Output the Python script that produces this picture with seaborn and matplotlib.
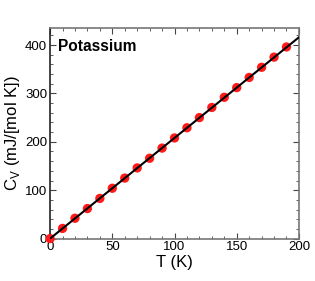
import numpy as np
import pandas as pd
import seaborn as sns
import matplotlib.pyplot as plt
from matplotlib.ticker import MultipleLocator

# data points
T = [0, 10, 20, 30, 40, 50, 60, 70, 80, 90, 100,
     110, 120, 130, 140, 150, 160, 170, 180, 190]
Cv = [0, 21, 42, 62, 83, 104, 125, 146, 166, 187, 208,
      229, 250, 271, 292, 312, 333, 354, 375, 396]

# linear fit line
fit_T = [0, 200]
fit_Cv = [0, 416]

df = pd.DataFrame({"T": T, "Cv": Cv})
fit = pd.DataFrame({"T": fit_T, "Cv": fit_Cv})

sns.set_style("ticks")
plt.rcParams["font.family"] = ["Liberation Sans", "DejaVu Sans"]
plt.rcParams["mathtext.fontset"] = "custom"
plt.rcParams["mathtext.rm"] = "Liberation Sans"
plt.rcParams["text.color"] = "black"
plt.rcParams["axes.labelcolor"] = "black"
plt.rcParams["xtick.color"] = "black"
plt.rcParams["ytick.color"] = "black"

fig = plt.figure(figsize=(3.15, 2.81), dpi=100)
ax = fig.add_axes([0.159, 0.151, 0.79, 0.749])

sns.scatterplot(data=df, x="T", y="Cv", ax=ax, color="#ff1a1a", s=45,
                edgecolor="none", clip_on=False, zorder=3, legend=False)
sns.lineplot(data=fit, x="T", y="Cv", ax=ax, color="black", lw=1.5, zorder=4)

ax.set_xlim(0, 200)
ax.set_ylim(0, 435)
ax.xaxis.set_major_locator(MultipleLocator(50))
ax.xaxis.set_minor_locator(MultipleLocator(10))
ax.yaxis.set_major_locator(MultipleLocator(100))
ax.yaxis.set_minor_locator(MultipleLocator(20))
ax.tick_params(which="both", direction="in", top=True, right=True,
               labelsize=9.5, color="#444444", pad=2)
ax.tick_params(which="major", length=4)
ax.tick_params(which="minor", length=2)
for sp in ax.spines.values():
    sp.set_visible(True)
    sp.set_color("#777777")
    sp.set_linewidth(1.2)
ax.spines["left"].set_color("#222222")

ax.set_xlabel("T (K)", fontsize=12, labelpad=1)
ax.set_ylabel(r"C$_\mathregular{V}$ (mJ/[mol K])", fontsize=12, labelpad=2)
ax.text(0.032, 0.95, "Potassium", transform=ax.transAxes, fontsize=11.2,
        fontweight="bold", va="top", ha="left")

fig.savefig("out.png", dpi=100)
